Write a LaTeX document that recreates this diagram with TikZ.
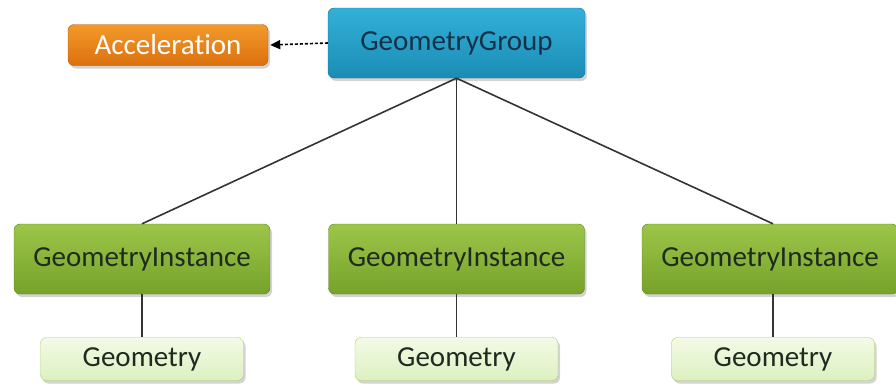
\documentclass[tikz,border=0pt]{standalone}
\usepackage{fontspec}
\setmainfont{Carlito}[Ligatures=NoCommon]
\usetikzlibrary{shadows,arrows.meta}
\definecolor{accO}{HTML}{F39A2A}
\definecolor{accOd}{HTML}{DC700E}
\definecolor{grpB}{HTML}{33B0D8}
\definecolor{grpBd}{HTML}{1B8DB5}
\definecolor{instG}{HTML}{9CC64A}
\definecolor{instGd}{HTML}{76A229}
\definecolor{geoL}{HTML}{F3FAE6}
\definecolor{geoLd}{HTML}{DDF0C0}
\definecolor{geoB}{HTML}{A8CF6A}
\definecolor{txtD}{HTML}{1F2A20}
\definecolor{txtB}{HTML}{14314A}
\tikzset{
  basebox/.style={rounded corners=6pt, inner sep=0pt, font=\fontsize{29}{31}\selectfont,
    drop shadow={shadow xshift=2pt, shadow yshift=-3pt, opacity=0.35}},
  accbox/.style={basebox, top color=accO, bottom color=accOd, draw=accOd!80!black, text=white,
    minimum width=200pt, minimum height=41pt},
  grpbox/.style={basebox, top color=grpB, bottom color=grpBd, draw=grpBd!80!black, text=txtB,
    minimum width=257pt, minimum height=70pt},
  instbox/.style={basebox, top color=instG, bottom color=instGd, draw=instGd!80!black, text=txtD,
    minimum width=256pt, minimum height=70pt},
  geobox/.style={basebox, top color=geoL, bottom color=geoLd, draw=geoB, text=txtD,
    minimum width=203pt, minimum height=43pt},
  link/.style={draw=black!80, line width=1.6pt}
}
\begin{document}
\begin{tikzpicture}[x=1pt,y=-1pt]
\useasboundingbox (0,0) rectangle (896,386);
\node[accbox] (acc) at (168,45) {Acceleration};
\node[grpbox] (grp) at (456.5,43) {GeometryGroup};
\node[instbox] (gi1) at (142,259) {GeometryInstance};
\node[instbox] (gi2) at (456.5,259) {GeometryInstance};
\node[instbox] (gi3) at (770,259) {GeometryInstance};
\node[geobox] (g1) at (142,359) {Geometry};
\node[geobox] (g2) at (456.5,359) {Geometry};
\node[geobox] (g3) at (773,359) {Geometry};
\draw[line width=1.6pt, dash pattern=on 3pt off 2pt, -{Triangle[length=10pt,width=9pt]}] (grp.west) -- ([xshift=2pt]acc.east);
\draw[link] (grp.south) -- (gi1.north);
\draw[link] (grp.south) -- (gi2.north);
\draw[link] (grp.south) -- ([xshift=3pt]gi3.north);
\draw[link] (gi1.south) -- (g1.north);
\draw[link] (gi2.south) -- (g2.north);
\draw[link] ([xshift=3pt]gi3.south) -- (g3.north);
\end{tikzpicture}
\end{document}
